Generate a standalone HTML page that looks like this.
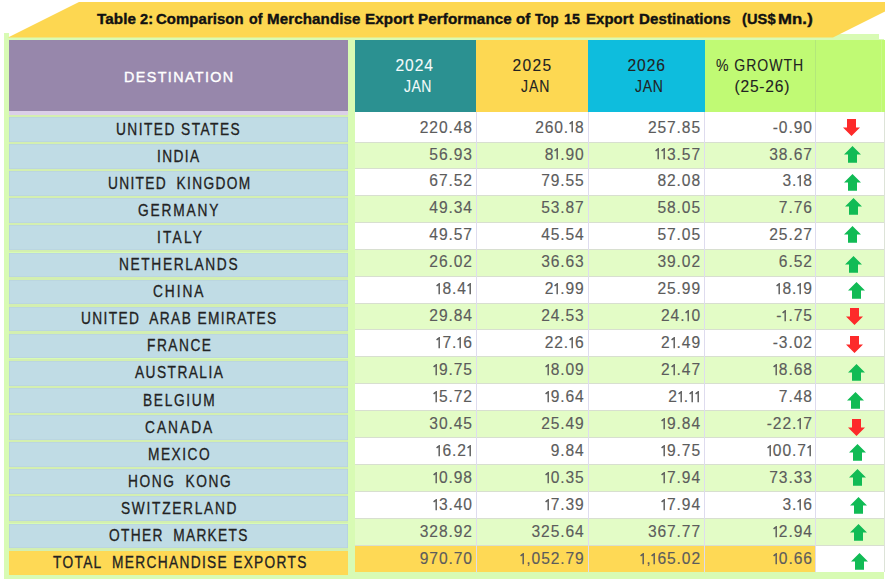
<!DOCTYPE html><html><head><meta charset="utf-8"><style>
*{margin:0;padding:0;box-sizing:border-box}
html,body{width:885px;height:582px;overflow:hidden;background:#fff}
body{position:relative;font-family:"Liberation Sans",sans-serif}
.a{position:absolute}
.t{position:absolute;white-space:nowrap;line-height:20px}
.sp{display:inline-block;width:5px}
.o{display:inline-block;vertical-align:baseline;overflow:visible}
</style></head><body>

<div class="a" style="left:4px;top:37px;width:880px;height:542px;background:#d8fbb4"></div>
<div class="a" style="left:4px;top:33.4px;width:4.5px;height:5px;background:#d8fbb4"></div>
<div class="a" style="left:826px;top:34px;width:53px;height:4px;background:#d8fbb4"></div>
<div class="a" style="left:879px;top:33px;width:6px;height:6.4px;background:#fff"></div>
<svg class="a" style="left:0;top:0" width="885" height="40"><polygon points="8,37.5 79,2 904,2 833,37.5" fill="#fdd751"/></svg>
<div class="t" style="left:97.00px;top:8.60px;font-size:15.3px;letter-spacing:0.1px;font-weight:bold;color:#111;-webkit-text-stroke:0.4px #111;transform:scaleX(0.9942);transform-origin:0 0">Table</div>
<div class="t" style="left:139.60px;top:8.60px;font-size:15.3px;letter-spacing:0.1px;font-weight:bold;color:#111;-webkit-text-stroke:0.4px #111;transform:scaleX(0.9516);transform-origin:0 0">2:</div>
<div class="t" style="left:156.40px;top:8.60px;font-size:15.3px;letter-spacing:0.1px;font-weight:bold;color:#111;-webkit-text-stroke:0.4px #111;transform:scaleX(0.9722);transform-origin:0 0">Comparison</div>
<div class="t" style="left:248.80px;top:8.60px;font-size:15.3px;letter-spacing:0.1px;font-weight:bold;color:#111;-webkit-text-stroke:0.4px #111;transform:scaleX(0.9249);transform-origin:0 0">of</div>
<div class="t" style="left:267.00px;top:8.60px;font-size:15.3px;letter-spacing:0.1px;font-weight:bold;color:#111;-webkit-text-stroke:0.4px #111;transform:scaleX(0.9886);transform-origin:0 0">Merchandise</div>
<div class="t" style="left:365.00px;top:8.60px;font-size:15.3px;letter-spacing:0.1px;font-weight:bold;color:#111;-webkit-text-stroke:0.4px #111;transform:scaleX(0.9928);transform-origin:0 0">Export</div>
<div class="t" style="left:417.80px;top:8.60px;font-size:15.3px;letter-spacing:0.1px;font-weight:bold;color:#111;-webkit-text-stroke:0.4px #111;transform:scaleX(0.9917);transform-origin:0 0">Performance</div>
<div class="t" style="left:516.40px;top:8.60px;font-size:15.3px;letter-spacing:0.1px;font-weight:bold;color:#111;-webkit-text-stroke:0.4px #111;transform:scaleX(0.9887);transform-origin:0 0">of</div>
<div class="t" style="left:535.20px;top:8.60px;font-size:15.3px;letter-spacing:0.1px;font-weight:bold;color:#111;-webkit-text-stroke:0.4px #111;transform:scaleX(0.8674);transform-origin:0 0">Top</div>
<div class="t" style="left:564.40px;top:8.60px;font-size:15.3px;letter-spacing:0.1px;font-weight:bold;color:#111;-webkit-text-stroke:0.4px #111;transform:scaleX(0.9338);transform-origin:0 0">15</div>
<div class="t" style="left:586.40px;top:8.60px;font-size:15.3px;letter-spacing:0.1px;font-weight:bold;color:#111;-webkit-text-stroke:0.4px #111;transform:scaleX(0.9723);transform-origin:0 0">Export</div>
<div class="t" style="left:639.40px;top:8.60px;font-size:15.3px;letter-spacing:0.1px;font-weight:bold;color:#111;-webkit-text-stroke:0.4px #111;transform:scaleX(0.9852);transform-origin:0 0">Destinations</div>
<div class="t" style="left:741.60px;top:8.60px;font-size:15.3px;letter-spacing:0.1px;font-weight:bold;color:#111;-webkit-text-stroke:0.4px #111;transform:scaleX(0.9529);transform-origin:0 0">(US$</div>
<div class="t" style="left:778.00px;top:8.60px;font-size:15.3px;letter-spacing:0.1px;font-weight:bold;color:#111;-webkit-text-stroke:0.4px #111;transform:scaleX(1.0935);transform-origin:0 0">Mn.)</div>
<div class="a" style="left:9px;top:39.5px;width:339px;height:72px;background:#9787ab"></div>
<div class="a" style="left:9px;top:111.1px;width:339px;height:3.9px;background:#dbd0e8"></div>
<div class="a" style="left:8.5px;top:115px;width:339.3px;height:2.2px;background:#d3efb0"></div>
<div class="t" style="left:124.00px;top:66.55px;font-size:14.60px;letter-spacing:1.44px;color:#fff;transform:scaleX(0.980);transform-origin:0 0;-webkit-text-stroke:0.4px #fff">DESTINATION</div>
<div class="a" style="left:355px;top:39.5px;width:121px;height:72px;background:#2b9191"></div>
<div class="a" style="left:476px;top:39.5px;width:112px;height:72px;background:#fdd852"></div>
<div class="a" style="left:588px;top:39.5px;width:116.5px;height:72px;background:#0ebddd"></div>
<div class="a" style="left:704.5px;top:39.5px;width:111.0px;height:72px;background:#c0fa74"></div>
<div class="a" style="left:815.5px;top:39.5px;width:70px;height:72px;background:#c0fa74"></div>
<div class="a" style="left:815px;top:39.5px;width:1px;height:72px;background:#b3e87a"></div>
<div class="a" style="left:881px;top:39.5px;width:1px;height:72px;background:#c9f98c"></div>
<div class="t" style="left:395.50px;top:56.10px;font-size:15.60px;letter-spacing:0.90px;color:#f4fbfb;-webkit-text-stroke:0.1px #f4fbfb">2024</div>
<div class="t" style="left:403.50px;top:77.10px;font-size:15.60px;letter-spacing:0.50px;color:#f4fbfb;transform:scaleX(0.900);transform-origin:0 0;-webkit-text-stroke:0.1px #f4fbfb">JAN</div>
<div class="t" style="left:512.50px;top:56.10px;font-size:15.60px;letter-spacing:1.33px;color:#222222;-webkit-text-stroke:0.1px #222222">2025</div>
<div class="t" style="left:520.50px;top:77.10px;font-size:15.60px;letter-spacing:1.10px;color:#222222;transform:scaleX(0.900);transform-origin:0 0;-webkit-text-stroke:0.1px #222222">JAN</div>
<div class="t" style="left:627.50px;top:56.10px;font-size:15.60px;letter-spacing:0.93px;color:#222222;-webkit-text-stroke:0.1px #222222">2026</div>
<div class="t" style="left:635.00px;top:77.10px;font-size:15.60px;letter-spacing:0.80px;color:#222222;transform:scaleX(0.900);transform-origin:0 0;-webkit-text-stroke:0.1px #222222">JAN</div>
<div class="t" style="left:716.00px;top:56.40px;font-size:15.60px;letter-spacing:1.09px;color:#222222;transform:scaleX(0.900);transform-origin:0 0;-webkit-text-stroke:0.1px #222222">% GROWTH</div>
<div class="t" style="left:734.50px;top:76.80px;font-size:15.60px;letter-spacing:0.77px;color:#222222;-webkit-text-stroke:0.1px #222222">(25-26)</div>
<div class="a" style="left:355px;top:112px;width:530px;height:30px;background:#ffffff"></div>
<div class="a" style="left:8.5px;top:117.2px;width:339.3px;height:24.5px;background:#c0dce5;box-shadow:inset 0 0 0 0.6px #b5cfdc"></div>
<div class="a" style="left:8.5px;top:141.7px;width:339.3px;height:2.4px;background:#d3efb0"></div>
<div class="t" style="left:116.00px;top:119.50px;font-size:15.60px;letter-spacing:1.65px;color:#222222;transform:scaleX(0.880);transform-origin:0 0;-webkit-text-stroke:0.3px #222222">UNITED STATES</div>
<div class="t" style="left:355.00px;top:117.56px;font-size:15.60px;letter-spacing:0.90px;color:#5c5c5c;width:117.85px;text-align:right;-webkit-text-stroke:0.15px #5c5c5c">220.48</div>
<div class="t" style="left:476.00px;top:117.56px;font-size:15.60px;letter-spacing:0.90px;color:#5c5c5c;width:108.66px;text-align:right;-webkit-text-stroke:0.15px #5c5c5c">260.<svg class="o" width="6.0" height="11.2"><path d="M3.2,0 V11.2 M3.2,0.6 L0.6000000000000001,3" fill="none" stroke="#5c5c5c" stroke-width="1.45"/></svg>8</div>
<div class="t" style="left:588.00px;top:117.56px;font-size:15.60px;letter-spacing:0.90px;color:#5c5c5c;width:113.00px;text-align:right;-webkit-text-stroke:0.15px #5c5c5c">257.85</div>
<div class="t" style="left:704.50px;top:117.56px;font-size:15.60px;letter-spacing:0.90px;color:#5c5c5c;width:108.30px;text-align:right;-webkit-text-stroke:0.15px #5c5c5c">-0.90</div>
<svg class="a" style="left:843.0px;top:119.2px" width="17" height="17"><polygon points="4,0 13,0 13,8.5 17,8.5 8.5,17 0,8.5 4,8.5" fill="#fd2a2a"/></svg>
<div class="a" style="left:355px;top:142px;width:530px;height:26px;background:#e3fcc6"></div>
<div class="a" style="left:355px;top:142px;width:529px;height:1px;background:#d8dfd0"></div>
<div class="a" style="left:8.5px;top:144.1px;width:339.3px;height:24.7px;background:#c0dce5;box-shadow:inset 0 0 0 0.6px #b5cfdc"></div>
<div class="a" style="left:8.5px;top:168.8px;width:339.3px;height:2.4px;background:#d3efb0"></div>
<div class="t" style="left:156.50px;top:147.20px;font-size:15.60px;letter-spacing:1.55px;color:#222222;transform:scaleX(0.880);transform-origin:0 0;-webkit-text-stroke:0.3px #222222">INDIA</div>
<div class="t" style="left:355.00px;top:144.51px;font-size:15.60px;letter-spacing:0.90px;color:#5c5c5c;width:117.85px;text-align:right;-webkit-text-stroke:0.15px #5c5c5c">56.93</div>
<div class="t" style="left:476.00px;top:144.51px;font-size:15.60px;letter-spacing:0.90px;color:#5c5c5c;width:108.66px;text-align:right;-webkit-text-stroke:0.15px #5c5c5c">8<svg class="o" width="6.0" height="11.2"><path d="M3.2,0 V11.2 M3.2,0.6 L0.6000000000000001,3" fill="none" stroke="#5c5c5c" stroke-width="1.45"/></svg>.90</div>
<div class="t" style="left:588.00px;top:144.51px;font-size:15.60px;letter-spacing:0.90px;color:#5c5c5c;width:113.00px;text-align:right;-webkit-text-stroke:0.15px #5c5c5c"><svg class="o" width="6.0" height="11.2"><path d="M3.2,0 V11.2 M3.2,0.6 L0.6000000000000001,3" fill="none" stroke="#5c5c5c" stroke-width="1.45"/></svg><svg class="o" width="6.0" height="11.2"><path d="M3.2,0 V11.2 M3.2,0.6 L0.6000000000000001,3" fill="none" stroke="#5c5c5c" stroke-width="1.45"/></svg>3.57</div>
<div class="t" style="left:704.50px;top:144.51px;font-size:15.60px;letter-spacing:0.90px;color:#5c5c5c;width:108.30px;text-align:right;-webkit-text-stroke:0.15px #5c5c5c">38.67</div>
<svg class="a" style="left:844.0px;top:146.0px" width="17" height="17"><polygon points="8.5,0 17,8.5 13,8.5 13,16.7 4,16.7 4,8.5 0,8.5" fill="#11bb55"/></svg>
<div class="a" style="left:355px;top:168px;width:530px;height:27px;background:#ffffff"></div>
<div class="a" style="left:355px;top:168px;width:529px;height:1px;background:#d8dfd0"></div>
<div class="a" style="left:8.5px;top:171.2px;width:339.3px;height:24.7px;background:#c0dce5;box-shadow:inset 0 0 0 0.6px #b5cfdc"></div>
<div class="a" style="left:8.5px;top:195.9px;width:339.3px;height:2.4px;background:#d3efb0"></div>
<div class="t" style="left:107.50px;top:174.10px;font-size:15.60px;letter-spacing:1.51px;color:#222222;transform:scaleX(0.880);transform-origin:0 0;-webkit-text-stroke:0.3px #222222">UNITED<span class="sp"></span> KINGDOM</div>
<div class="t" style="left:355.00px;top:171.46px;font-size:15.60px;letter-spacing:0.90px;color:#5c5c5c;width:117.85px;text-align:right;-webkit-text-stroke:0.15px #5c5c5c">67.52</div>
<div class="t" style="left:476.00px;top:171.46px;font-size:15.60px;letter-spacing:0.90px;color:#5c5c5c;width:108.66px;text-align:right;-webkit-text-stroke:0.15px #5c5c5c">79.55</div>
<div class="t" style="left:588.00px;top:171.46px;font-size:15.60px;letter-spacing:0.90px;color:#5c5c5c;width:113.00px;text-align:right;-webkit-text-stroke:0.15px #5c5c5c">82.08</div>
<div class="t" style="left:704.50px;top:171.46px;font-size:15.60px;letter-spacing:0.90px;color:#5c5c5c;width:108.30px;text-align:right;-webkit-text-stroke:0.15px #5c5c5c">3.<svg class="o" width="6.0" height="11.2"><path d="M3.2,0 V11.2 M3.2,0.6 L0.6000000000000001,3" fill="none" stroke="#5c5c5c" stroke-width="1.45"/></svg>8</div>
<svg class="a" style="left:843.6px;top:173.8px" width="17" height="17"><polygon points="8.5,0 17,8.5 13,8.5 13,16.7 4,16.7 4,8.5 0,8.5" fill="#11bb55"/></svg>
<div class="a" style="left:355px;top:195px;width:530px;height:27px;background:#e3fcc6"></div>
<div class="a" style="left:355px;top:195px;width:529px;height:1px;background:#d8dfd0"></div>
<div class="a" style="left:8.5px;top:198.3px;width:339.3px;height:24.7px;background:#c0dce5;box-shadow:inset 0 0 0 0.6px #b5cfdc"></div>
<div class="a" style="left:8.5px;top:223.0px;width:339.3px;height:2.4px;background:#d3efb0"></div>
<div class="t" style="left:138.00px;top:200.70px;font-size:15.60px;letter-spacing:2.07px;color:#222222;transform:scaleX(0.880);transform-origin:0 0;-webkit-text-stroke:0.3px #222222">GERMANY</div>
<div class="t" style="left:355.00px;top:198.41px;font-size:15.60px;letter-spacing:0.90px;color:#5c5c5c;width:117.85px;text-align:right;-webkit-text-stroke:0.15px #5c5c5c">49.34</div>
<div class="t" style="left:476.00px;top:198.41px;font-size:15.60px;letter-spacing:0.90px;color:#5c5c5c;width:108.66px;text-align:right;-webkit-text-stroke:0.15px #5c5c5c">53.87</div>
<div class="t" style="left:588.00px;top:198.41px;font-size:15.60px;letter-spacing:0.90px;color:#5c5c5c;width:113.00px;text-align:right;-webkit-text-stroke:0.15px #5c5c5c">58.05</div>
<div class="t" style="left:704.50px;top:198.41px;font-size:15.60px;letter-spacing:0.90px;color:#5c5c5c;width:108.30px;text-align:right;-webkit-text-stroke:0.15px #5c5c5c">7.76</div>
<svg class="a" style="left:845.0px;top:198.3px" width="17" height="17"><polygon points="8.5,0 17,8.5 13,8.5 13,16.7 4,16.7 4,8.5 0,8.5" fill="#11bb55"/></svg>
<div class="a" style="left:355px;top:222px;width:530px;height:27px;background:#ffffff"></div>
<div class="a" style="left:355px;top:222px;width:529px;height:1px;background:#d8dfd0"></div>
<div class="a" style="left:8.5px;top:225.4px;width:339.3px;height:24.7px;background:#c0dce5;box-shadow:inset 0 0 0 0.6px #b5cfdc"></div>
<div class="a" style="left:8.5px;top:250.1px;width:339.3px;height:2.4px;background:#d3efb0"></div>
<div class="t" style="left:156.50px;top:228.00px;font-size:15.60px;letter-spacing:2.50px;color:#222222;transform:scaleX(0.880);transform-origin:0 0;-webkit-text-stroke:0.3px #222222">ITALY</div>
<div class="t" style="left:355.00px;top:225.36px;font-size:15.60px;letter-spacing:0.90px;color:#5c5c5c;width:117.85px;text-align:right;-webkit-text-stroke:0.15px #5c5c5c">49.57</div>
<div class="t" style="left:476.00px;top:225.36px;font-size:15.60px;letter-spacing:0.90px;color:#5c5c5c;width:108.66px;text-align:right;-webkit-text-stroke:0.15px #5c5c5c">45.54</div>
<div class="t" style="left:588.00px;top:225.36px;font-size:15.60px;letter-spacing:0.90px;color:#5c5c5c;width:113.00px;text-align:right;-webkit-text-stroke:0.15px #5c5c5c">57.05</div>
<div class="t" style="left:704.50px;top:225.36px;font-size:15.60px;letter-spacing:0.90px;color:#5c5c5c;width:108.30px;text-align:right;-webkit-text-stroke:0.15px #5c5c5c">25.27</div>
<svg class="a" style="left:844.3px;top:225.7px" width="17" height="17"><polygon points="8.5,0 17,8.5 13,8.5 13,16.7 4,16.7 4,8.5 0,8.5" fill="#11bb55"/></svg>
<div class="a" style="left:355px;top:249px;width:530px;height:27px;background:#e3fcc6"></div>
<div class="a" style="left:355px;top:249px;width:529px;height:1px;background:#d8dfd0"></div>
<div class="a" style="left:8.5px;top:252.5px;width:339.3px;height:24.7px;background:#c0dce5;box-shadow:inset 0 0 0 0.6px #b5cfdc"></div>
<div class="a" style="left:8.5px;top:277.2px;width:339.3px;height:2.4px;background:#d3efb0"></div>
<div class="t" style="left:119.00px;top:255.30px;font-size:15.60px;letter-spacing:1.86px;color:#222222;transform:scaleX(0.880);transform-origin:0 0;-webkit-text-stroke:0.3px #222222">NETHERLANDS</div>
<div class="t" style="left:355.00px;top:252.31px;font-size:15.60px;letter-spacing:0.90px;color:#5c5c5c;width:117.85px;text-align:right;-webkit-text-stroke:0.15px #5c5c5c">26.02</div>
<div class="t" style="left:476.00px;top:252.31px;font-size:15.60px;letter-spacing:0.90px;color:#5c5c5c;width:108.66px;text-align:right;-webkit-text-stroke:0.15px #5c5c5c">36.63</div>
<div class="t" style="left:588.00px;top:252.31px;font-size:15.60px;letter-spacing:0.90px;color:#5c5c5c;width:113.00px;text-align:right;-webkit-text-stroke:0.15px #5c5c5c">39.02</div>
<div class="t" style="left:704.50px;top:252.31px;font-size:15.60px;letter-spacing:0.90px;color:#5c5c5c;width:108.30px;text-align:right;-webkit-text-stroke:0.15px #5c5c5c">6.52</div>
<svg class="a" style="left:845.4px;top:255.8px" width="17" height="17"><polygon points="8.5,0 17,8.5 13,8.5 13,16.7 4,16.7 4,8.5 0,8.5" fill="#11bb55"/></svg>
<div class="a" style="left:355px;top:276px;width:530px;height:27px;background:#ffffff"></div>
<div class="a" style="left:355px;top:276px;width:529px;height:1px;background:#d8dfd0"></div>
<div class="a" style="left:8.5px;top:279.6px;width:339.3px;height:24.7px;background:#c0dce5;box-shadow:inset 0 0 0 0.6px #b5cfdc"></div>
<div class="a" style="left:8.5px;top:304.3px;width:339.3px;height:2.4px;background:#d3efb0"></div>
<div class="t" style="left:153.00px;top:281.60px;font-size:15.60px;letter-spacing:2.20px;color:#222222;transform:scaleX(0.880);transform-origin:0 0;-webkit-text-stroke:0.3px #222222">CHINA</div>
<div class="t" style="left:355.00px;top:279.26px;font-size:15.60px;letter-spacing:0.90px;color:#5c5c5c;width:117.85px;text-align:right;-webkit-text-stroke:0.15px #5c5c5c"><svg class="o" width="6.0" height="11.2"><path d="M3.2,0 V11.2 M3.2,0.6 L0.6000000000000001,3" fill="none" stroke="#5c5c5c" stroke-width="1.45"/></svg>8.4<svg class="o" width="6.0" height="11.2"><path d="M3.2,0 V11.2 M3.2,0.6 L0.6000000000000001,3" fill="none" stroke="#5c5c5c" stroke-width="1.45"/></svg></div>
<div class="t" style="left:476.00px;top:279.26px;font-size:15.60px;letter-spacing:0.90px;color:#5c5c5c;width:108.66px;text-align:right;-webkit-text-stroke:0.15px #5c5c5c">2<svg class="o" width="6.0" height="11.2"><path d="M3.2,0 V11.2 M3.2,0.6 L0.6000000000000001,3" fill="none" stroke="#5c5c5c" stroke-width="1.45"/></svg>.99</div>
<div class="t" style="left:588.00px;top:279.26px;font-size:15.60px;letter-spacing:0.90px;color:#5c5c5c;width:113.00px;text-align:right;-webkit-text-stroke:0.15px #5c5c5c">25.99</div>
<div class="t" style="left:704.50px;top:279.26px;font-size:15.60px;letter-spacing:0.90px;color:#5c5c5c;width:108.30px;text-align:right;-webkit-text-stroke:0.15px #5c5c5c"><svg class="o" width="6.0" height="11.2"><path d="M3.2,0 V11.2 M3.2,0.6 L0.6000000000000001,3" fill="none" stroke="#5c5c5c" stroke-width="1.45"/></svg>8.<svg class="o" width="6.0" height="11.2"><path d="M3.2,0 V11.2 M3.2,0.6 L0.6000000000000001,3" fill="none" stroke="#5c5c5c" stroke-width="1.45"/></svg>9</div>
<svg class="a" style="left:847.8px;top:282.1px" width="17" height="17"><polygon points="8.5,0 17,8.5 13,8.5 13,16.7 4,16.7 4,8.5 0,8.5" fill="#11bb55"/></svg>
<div class="a" style="left:355px;top:303px;width:530px;height:26px;background:#e3fcc6"></div>
<div class="a" style="left:355px;top:303px;width:529px;height:1px;background:#d8dfd0"></div>
<div class="a" style="left:8.5px;top:306.7px;width:339.3px;height:24.7px;background:#c0dce5;box-shadow:inset 0 0 0 0.6px #b5cfdc"></div>
<div class="a" style="left:8.5px;top:331.4px;width:339.3px;height:2.4px;background:#d3efb0"></div>
<div class="t" style="left:80.50px;top:308.70px;font-size:15.60px;letter-spacing:1.58px;color:#222222;transform:scaleX(0.880);transform-origin:0 0;-webkit-text-stroke:0.3px #222222">UNITED<span class="sp"></span> ARAB EMIRATES</div>
<div class="t" style="left:355.00px;top:306.21px;font-size:15.60px;letter-spacing:0.90px;color:#5c5c5c;width:117.85px;text-align:right;-webkit-text-stroke:0.15px #5c5c5c">29.84</div>
<div class="t" style="left:476.00px;top:306.21px;font-size:15.60px;letter-spacing:0.90px;color:#5c5c5c;width:108.66px;text-align:right;-webkit-text-stroke:0.15px #5c5c5c">24.53</div>
<div class="t" style="left:588.00px;top:306.21px;font-size:15.60px;letter-spacing:0.90px;color:#5c5c5c;width:113.00px;text-align:right;-webkit-text-stroke:0.15px #5c5c5c">24.<svg class="o" width="6.0" height="11.2"><path d="M3.2,0 V11.2 M3.2,0.6 L0.6000000000000001,3" fill="none" stroke="#5c5c5c" stroke-width="1.45"/></svg>0</div>
<div class="t" style="left:704.50px;top:306.21px;font-size:15.60px;letter-spacing:0.90px;color:#5c5c5c;width:108.30px;text-align:right;-webkit-text-stroke:0.15px #5c5c5c">-<svg class="o" width="6.0" height="11.2"><path d="M3.2,0 V11.2 M3.2,0.6 L0.6000000000000001,3" fill="none" stroke="#5c5c5c" stroke-width="1.45"/></svg>.75</div>
<svg class="a" style="left:846.4px;top:307.7px" width="17" height="17"><polygon points="4,0 13,0 13,8.5 17,8.5 8.5,17 0,8.5 4,8.5" fill="#fd2a2a"/></svg>
<div class="a" style="left:355px;top:329px;width:530px;height:27px;background:#ffffff"></div>
<div class="a" style="left:355px;top:329px;width:529px;height:1px;background:#d8dfd0"></div>
<div class="a" style="left:8.5px;top:333.8px;width:339.3px;height:24.7px;background:#c0dce5;box-shadow:inset 0 0 0 0.6px #b5cfdc"></div>
<div class="a" style="left:8.5px;top:358.5px;width:339.3px;height:2.4px;background:#d3efb0"></div>
<div class="t" style="left:146.50px;top:336.00px;font-size:15.60px;letter-spacing:1.72px;color:#222222;transform:scaleX(0.880);transform-origin:0 0;-webkit-text-stroke:0.3px #222222">FRANCE</div>
<div class="t" style="left:355.00px;top:333.16px;font-size:15.60px;letter-spacing:0.90px;color:#5c5c5c;width:117.85px;text-align:right;-webkit-text-stroke:0.15px #5c5c5c"><svg class="o" width="6.0" height="11.2"><path d="M3.2,0 V11.2 M3.2,0.6 L0.6000000000000001,3" fill="none" stroke="#5c5c5c" stroke-width="1.45"/></svg>7.<svg class="o" width="6.0" height="11.2"><path d="M3.2,0 V11.2 M3.2,0.6 L0.6000000000000001,3" fill="none" stroke="#5c5c5c" stroke-width="1.45"/></svg>6</div>
<div class="t" style="left:476.00px;top:333.16px;font-size:15.60px;letter-spacing:0.90px;color:#5c5c5c;width:108.66px;text-align:right;-webkit-text-stroke:0.15px #5c5c5c">22.<svg class="o" width="6.0" height="11.2"><path d="M3.2,0 V11.2 M3.2,0.6 L0.6000000000000001,3" fill="none" stroke="#5c5c5c" stroke-width="1.45"/></svg>6</div>
<div class="t" style="left:588.00px;top:333.16px;font-size:15.60px;letter-spacing:0.90px;color:#5c5c5c;width:113.00px;text-align:right;-webkit-text-stroke:0.15px #5c5c5c">2<svg class="o" width="6.0" height="11.2"><path d="M3.2,0 V11.2 M3.2,0.6 L0.6000000000000001,3" fill="none" stroke="#5c5c5c" stroke-width="1.45"/></svg>.49</div>
<div class="t" style="left:704.50px;top:333.16px;font-size:15.60px;letter-spacing:0.90px;color:#5c5c5c;width:108.30px;text-align:right;-webkit-text-stroke:0.15px #5c5c5c">-3.02</div>
<svg class="a" style="left:846.4px;top:336.0px" width="17" height="17"><polygon points="4,0 13,0 13,8.5 17,8.5 8.5,17 0,8.5 4,8.5" fill="#fd2a2a"/></svg>
<div class="a" style="left:355px;top:356px;width:530px;height:27px;background:#e3fcc6"></div>
<div class="a" style="left:355px;top:356px;width:529px;height:1px;background:#d8dfd0"></div>
<div class="a" style="left:8.5px;top:360.9px;width:339.3px;height:24.7px;background:#c0dce5;box-shadow:inset 0 0 0 0.6px #b5cfdc"></div>
<div class="a" style="left:8.5px;top:385.6px;width:339.3px;height:2.4px;background:#d3efb0"></div>
<div class="t" style="left:135.00px;top:363.30px;font-size:15.60px;letter-spacing:1.65px;color:#222222;transform:scaleX(0.880);transform-origin:0 0;-webkit-text-stroke:0.3px #222222">AUSTRALIA</div>
<div class="t" style="left:355.00px;top:360.11px;font-size:15.60px;letter-spacing:0.90px;color:#5c5c5c;width:117.85px;text-align:right;-webkit-text-stroke:0.15px #5c5c5c"><svg class="o" width="6.0" height="11.2"><path d="M3.2,0 V11.2 M3.2,0.6 L0.6000000000000001,3" fill="none" stroke="#5c5c5c" stroke-width="1.45"/></svg>9.75</div>
<div class="t" style="left:476.00px;top:360.11px;font-size:15.60px;letter-spacing:0.90px;color:#5c5c5c;width:108.66px;text-align:right;-webkit-text-stroke:0.15px #5c5c5c"><svg class="o" width="6.0" height="11.2"><path d="M3.2,0 V11.2 M3.2,0.6 L0.6000000000000001,3" fill="none" stroke="#5c5c5c" stroke-width="1.45"/></svg>8.09</div>
<div class="t" style="left:588.00px;top:360.11px;font-size:15.60px;letter-spacing:0.90px;color:#5c5c5c;width:113.00px;text-align:right;-webkit-text-stroke:0.15px #5c5c5c">2<svg class="o" width="6.0" height="11.2"><path d="M3.2,0 V11.2 M3.2,0.6 L0.6000000000000001,3" fill="none" stroke="#5c5c5c" stroke-width="1.45"/></svg>.47</div>
<div class="t" style="left:704.50px;top:360.11px;font-size:15.60px;letter-spacing:0.90px;color:#5c5c5c;width:108.30px;text-align:right;-webkit-text-stroke:0.15px #5c5c5c"><svg class="o" width="6.0" height="11.2"><path d="M3.2,0 V11.2 M3.2,0.6 L0.6000000000000001,3" fill="none" stroke="#5c5c5c" stroke-width="1.45"/></svg>8.68</div>
<svg class="a" style="left:848.3px;top:363.8px" width="17" height="17"><polygon points="8.5,0 17,8.5 13,8.5 13,16.7 4,16.7 4,8.5 0,8.5" fill="#11bb55"/></svg>
<div class="a" style="left:355px;top:383px;width:530px;height:27px;background:#ffffff"></div>
<div class="a" style="left:355px;top:383px;width:529px;height:1px;background:#d8dfd0"></div>
<div class="a" style="left:8.5px;top:388.0px;width:339.3px;height:24.7px;background:#c0dce5;box-shadow:inset 0 0 0 0.6px #b5cfdc"></div>
<div class="a" style="left:8.5px;top:412.7px;width:339.3px;height:2.4px;background:#d3efb0"></div>
<div class="t" style="left:142.50px;top:390.60px;font-size:15.60px;letter-spacing:1.90px;color:#222222;transform:scaleX(0.880);transform-origin:0 0;-webkit-text-stroke:0.3px #222222">BELGIUM</div>
<div class="t" style="left:355.00px;top:387.06px;font-size:15.60px;letter-spacing:0.90px;color:#5c5c5c;width:117.85px;text-align:right;-webkit-text-stroke:0.15px #5c5c5c"><svg class="o" width="6.0" height="11.2"><path d="M3.2,0 V11.2 M3.2,0.6 L0.6000000000000001,3" fill="none" stroke="#5c5c5c" stroke-width="1.45"/></svg>5.72</div>
<div class="t" style="left:476.00px;top:387.06px;font-size:15.60px;letter-spacing:0.90px;color:#5c5c5c;width:108.66px;text-align:right;-webkit-text-stroke:0.15px #5c5c5c"><svg class="o" width="6.0" height="11.2"><path d="M3.2,0 V11.2 M3.2,0.6 L0.6000000000000001,3" fill="none" stroke="#5c5c5c" stroke-width="1.45"/></svg>9.64</div>
<div class="t" style="left:588.00px;top:387.06px;font-size:15.60px;letter-spacing:0.90px;color:#5c5c5c;width:113.00px;text-align:right;-webkit-text-stroke:0.15px #5c5c5c">2<svg class="o" width="6.0" height="11.2"><path d="M3.2,0 V11.2 M3.2,0.6 L0.6000000000000001,3" fill="none" stroke="#5c5c5c" stroke-width="1.45"/></svg>.<svg class="o" width="6.0" height="11.2"><path d="M3.2,0 V11.2 M3.2,0.6 L0.6000000000000001,3" fill="none" stroke="#5c5c5c" stroke-width="1.45"/></svg><svg class="o" width="6.0" height="11.2"><path d="M3.2,0 V11.2 M3.2,0.6 L0.6000000000000001,3" fill="none" stroke="#5c5c5c" stroke-width="1.45"/></svg></div>
<div class="t" style="left:704.50px;top:387.06px;font-size:15.60px;letter-spacing:0.90px;color:#5c5c5c;width:108.30px;text-align:right;-webkit-text-stroke:0.15px #5c5c5c">7.48</div>
<svg class="a" style="left:847.3px;top:391.6px" width="17" height="17"><polygon points="8.5,0 17,8.5 13,8.5 13,16.7 4,16.7 4,8.5 0,8.5" fill="#11bb55"/></svg>
<div class="a" style="left:355px;top:410px;width:530px;height:27px;background:#e3fcc6"></div>
<div class="a" style="left:355px;top:410px;width:529px;height:1px;background:#d8dfd0"></div>
<div class="a" style="left:8.5px;top:415.1px;width:339.3px;height:24.7px;background:#c0dce5;box-shadow:inset 0 0 0 0.6px #b5cfdc"></div>
<div class="a" style="left:8.5px;top:439.8px;width:339.3px;height:2.4px;background:#d3efb0"></div>
<div class="t" style="left:144.50px;top:417.80px;font-size:15.60px;letter-spacing:2.28px;color:#222222;transform:scaleX(0.880);transform-origin:0 0;-webkit-text-stroke:0.3px #222222">CANADA</div>
<div class="t" style="left:355.00px;top:414.01px;font-size:15.60px;letter-spacing:0.90px;color:#5c5c5c;width:117.85px;text-align:right;-webkit-text-stroke:0.15px #5c5c5c">30.45</div>
<div class="t" style="left:476.00px;top:414.01px;font-size:15.60px;letter-spacing:0.90px;color:#5c5c5c;width:108.66px;text-align:right;-webkit-text-stroke:0.15px #5c5c5c">25.49</div>
<div class="t" style="left:588.00px;top:414.01px;font-size:15.60px;letter-spacing:0.90px;color:#5c5c5c;width:113.00px;text-align:right;-webkit-text-stroke:0.15px #5c5c5c"><svg class="o" width="6.0" height="11.2"><path d="M3.2,0 V11.2 M3.2,0.6 L0.6000000000000001,3" fill="none" stroke="#5c5c5c" stroke-width="1.45"/></svg>9.84</div>
<div class="t" style="left:704.50px;top:414.01px;font-size:15.60px;letter-spacing:0.90px;color:#5c5c5c;width:108.30px;text-align:right;-webkit-text-stroke:0.15px #5c5c5c">-22.<svg class="o" width="6.0" height="11.2"><path d="M3.2,0 V11.2 M3.2,0.6 L0.6000000000000001,3" fill="none" stroke="#5c5c5c" stroke-width="1.45"/></svg>7</div>
<svg class="a" style="left:848.3px;top:418.5px" width="17" height="17"><polygon points="4,0 13,0 13,8.5 17,8.5 8.5,17 0,8.5 4,8.5" fill="#fd2a2a"/></svg>
<div class="a" style="left:355px;top:437px;width:530px;height:27px;background:#ffffff"></div>
<div class="a" style="left:355px;top:437px;width:529px;height:1px;background:#d8dfd0"></div>
<div class="a" style="left:8.5px;top:442.2px;width:339.3px;height:24.7px;background:#c0dce5;box-shadow:inset 0 0 0 0.6px #b5cfdc"></div>
<div class="a" style="left:8.5px;top:466.9px;width:339.3px;height:2.4px;background:#d3efb0"></div>
<div class="t" style="left:148.00px;top:445.20px;font-size:15.60px;letter-spacing:1.72px;color:#222222;transform:scaleX(0.880);transform-origin:0 0;-webkit-text-stroke:0.3px #222222">MEXICO</div>
<div class="t" style="left:355.00px;top:440.96px;font-size:15.60px;letter-spacing:0.90px;color:#5c5c5c;width:117.85px;text-align:right;-webkit-text-stroke:0.15px #5c5c5c"><svg class="o" width="6.0" height="11.2"><path d="M3.2,0 V11.2 M3.2,0.6 L0.6000000000000001,3" fill="none" stroke="#5c5c5c" stroke-width="1.45"/></svg>6.2<svg class="o" width="6.0" height="11.2"><path d="M3.2,0 V11.2 M3.2,0.6 L0.6000000000000001,3" fill="none" stroke="#5c5c5c" stroke-width="1.45"/></svg></div>
<div class="t" style="left:476.00px;top:440.96px;font-size:15.60px;letter-spacing:0.90px;color:#5c5c5c;width:108.66px;text-align:right;-webkit-text-stroke:0.15px #5c5c5c">9.84</div>
<div class="t" style="left:588.00px;top:440.96px;font-size:15.60px;letter-spacing:0.90px;color:#5c5c5c;width:113.00px;text-align:right;-webkit-text-stroke:0.15px #5c5c5c"><svg class="o" width="6.0" height="11.2"><path d="M3.2,0 V11.2 M3.2,0.6 L0.6000000000000001,3" fill="none" stroke="#5c5c5c" stroke-width="1.45"/></svg>9.75</div>
<div class="t" style="left:704.50px;top:440.96px;font-size:15.60px;letter-spacing:0.90px;color:#5c5c5c;width:108.30px;text-align:right;-webkit-text-stroke:0.15px #5c5c5c"><svg class="o" width="6.0" height="11.2"><path d="M3.2,0 V11.2 M3.2,0.6 L0.6000000000000001,3" fill="none" stroke="#5c5c5c" stroke-width="1.45"/></svg>00.7<svg class="o" width="6.0" height="11.2"><path d="M3.2,0 V11.2 M3.2,0.6 L0.6000000000000001,3" fill="none" stroke="#5c5c5c" stroke-width="1.45"/></svg></div>
<svg class="a" style="left:849.3px;top:443.6px" width="17" height="17"><polygon points="8.5,0 17,8.5 13,8.5 13,16.7 4,16.7 4,8.5 0,8.5" fill="#11bb55"/></svg>
<div class="a" style="left:355px;top:464px;width:530px;height:27px;background:#e3fcc6"></div>
<div class="a" style="left:355px;top:464px;width:529px;height:1px;background:#d8dfd0"></div>
<div class="a" style="left:8.5px;top:469.3px;width:339.3px;height:24.7px;background:#c0dce5;box-shadow:inset 0 0 0 0.6px #b5cfdc"></div>
<div class="a" style="left:8.5px;top:494.0px;width:339.3px;height:2.4px;background:#d3efb0"></div>
<div class="t" style="left:127.50px;top:471.50px;font-size:15.60px;letter-spacing:1.82px;color:#222222;transform:scaleX(0.880);transform-origin:0 0;-webkit-text-stroke:0.3px #222222">HONG<span class="sp"></span> KONG</div>
<div class="t" style="left:355.00px;top:467.91px;font-size:15.60px;letter-spacing:0.90px;color:#5c5c5c;width:117.85px;text-align:right;-webkit-text-stroke:0.15px #5c5c5c"><svg class="o" width="6.0" height="11.2"><path d="M3.2,0 V11.2 M3.2,0.6 L0.6000000000000001,3" fill="none" stroke="#5c5c5c" stroke-width="1.45"/></svg>0.98</div>
<div class="t" style="left:476.00px;top:467.91px;font-size:15.60px;letter-spacing:0.90px;color:#5c5c5c;width:108.66px;text-align:right;-webkit-text-stroke:0.15px #5c5c5c"><svg class="o" width="6.0" height="11.2"><path d="M3.2,0 V11.2 M3.2,0.6 L0.6000000000000001,3" fill="none" stroke="#5c5c5c" stroke-width="1.45"/></svg>0.35</div>
<div class="t" style="left:588.00px;top:467.91px;font-size:15.60px;letter-spacing:0.90px;color:#5c5c5c;width:113.00px;text-align:right;-webkit-text-stroke:0.15px #5c5c5c"><svg class="o" width="6.0" height="11.2"><path d="M3.2,0 V11.2 M3.2,0.6 L0.6000000000000001,3" fill="none" stroke="#5c5c5c" stroke-width="1.45"/></svg>7.94</div>
<div class="t" style="left:704.50px;top:467.91px;font-size:15.60px;letter-spacing:0.90px;color:#5c5c5c;width:108.30px;text-align:right;-webkit-text-stroke:0.15px #5c5c5c">73.33</div>
<svg class="a" style="left:849.0px;top:469.2px" width="17" height="17"><polygon points="8.5,0 17,8.5 13,8.5 13,16.7 4,16.7 4,8.5 0,8.5" fill="#11bb55"/></svg>
<div class="a" style="left:355px;top:491px;width:530px;height:27px;background:#ffffff"></div>
<div class="a" style="left:355px;top:491px;width:529px;height:1px;background:#d8dfd0"></div>
<div class="a" style="left:8.5px;top:496.4px;width:339.3px;height:24.7px;background:#c0dce5;box-shadow:inset 0 0 0 0.6px #b5cfdc"></div>
<div class="a" style="left:8.5px;top:521.1px;width:339.3px;height:2.4px;background:#d3efb0"></div>
<div class="t" style="left:120.50px;top:498.80px;font-size:15.60px;letter-spacing:1.94px;color:#222222;transform:scaleX(0.880);transform-origin:0 0;-webkit-text-stroke:0.3px #222222">SWITZERLAND</div>
<div class="t" style="left:355.00px;top:494.86px;font-size:15.60px;letter-spacing:0.90px;color:#5c5c5c;width:117.85px;text-align:right;-webkit-text-stroke:0.15px #5c5c5c"><svg class="o" width="6.0" height="11.2"><path d="M3.2,0 V11.2 M3.2,0.6 L0.6000000000000001,3" fill="none" stroke="#5c5c5c" stroke-width="1.45"/></svg>3.40</div>
<div class="t" style="left:476.00px;top:494.86px;font-size:15.60px;letter-spacing:0.90px;color:#5c5c5c;width:108.66px;text-align:right;-webkit-text-stroke:0.15px #5c5c5c"><svg class="o" width="6.0" height="11.2"><path d="M3.2,0 V11.2 M3.2,0.6 L0.6000000000000001,3" fill="none" stroke="#5c5c5c" stroke-width="1.45"/></svg>7.39</div>
<div class="t" style="left:588.00px;top:494.86px;font-size:15.60px;letter-spacing:0.90px;color:#5c5c5c;width:113.00px;text-align:right;-webkit-text-stroke:0.15px #5c5c5c"><svg class="o" width="6.0" height="11.2"><path d="M3.2,0 V11.2 M3.2,0.6 L0.6000000000000001,3" fill="none" stroke="#5c5c5c" stroke-width="1.45"/></svg>7.94</div>
<div class="t" style="left:704.50px;top:494.86px;font-size:15.60px;letter-spacing:0.90px;color:#5c5c5c;width:108.30px;text-align:right;-webkit-text-stroke:0.15px #5c5c5c">3.<svg class="o" width="6.0" height="11.2"><path d="M3.2,0 V11.2 M3.2,0.6 L0.6000000000000001,3" fill="none" stroke="#5c5c5c" stroke-width="1.45"/></svg>6</div>
<svg class="a" style="left:850.2px;top:496.6px" width="17" height="17"><polygon points="8.5,0 17,8.5 13,8.5 13,16.7 4,16.7 4,8.5 0,8.5" fill="#11bb55"/></svg>
<div class="a" style="left:355px;top:518px;width:530px;height:27px;background:#e3fcc6"></div>
<div class="a" style="left:355px;top:518px;width:529px;height:1px;background:#d8dfd0"></div>
<div class="a" style="left:8.5px;top:523.5px;width:339.3px;height:24.7px;background:#c0dce5;box-shadow:inset 0 0 0 0.6px #b5cfdc"></div>
<div class="a" style="left:8.5px;top:548.2px;width:339.3px;height:2.4px;background:#d3efb0"></div>
<div class="t" style="left:108.50px;top:525.80px;font-size:15.60px;letter-spacing:1.50px;color:#222222;transform:scaleX(0.880);transform-origin:0 0;-webkit-text-stroke:0.3px #222222">OTHER<span class="sp"></span> MARKETS</div>
<div class="t" style="left:355.00px;top:521.81px;font-size:15.60px;letter-spacing:0.90px;color:#5c5c5c;width:117.85px;text-align:right;-webkit-text-stroke:0.15px #5c5c5c">328.92</div>
<div class="t" style="left:476.00px;top:521.81px;font-size:15.60px;letter-spacing:0.90px;color:#5c5c5c;width:108.66px;text-align:right;-webkit-text-stroke:0.15px #5c5c5c">325.64</div>
<div class="t" style="left:588.00px;top:521.81px;font-size:15.60px;letter-spacing:0.90px;color:#5c5c5c;width:113.00px;text-align:right;-webkit-text-stroke:0.15px #5c5c5c">367.77</div>
<div class="t" style="left:704.50px;top:521.81px;font-size:15.60px;letter-spacing:0.90px;color:#5c5c5c;width:108.30px;text-align:right;-webkit-text-stroke:0.15px #5c5c5c"><svg class="o" width="6.0" height="11.2"><path d="M3.2,0 V11.2 M3.2,0.6 L0.6000000000000001,3" fill="none" stroke="#5c5c5c" stroke-width="1.45"/></svg>2.94</div>
<svg class="a" style="left:850.2px;top:523.6px" width="17" height="17"><polygon points="8.5,0 17,8.5 13,8.5 13,16.7 4,16.7 4,8.5 0,8.5" fill="#11bb55"/></svg>
<div class="a" style="left:355px;top:545px;width:460.5px;height:27px;background:#fed955"></div>
<div class="a" style="left:815.5px;top:545px;width:69.5px;height:27px;background:#fff"></div>
<div class="a" style="left:355px;top:545px;width:529px;height:1px;background:#d8dfd0"></div>
<div class="a" style="left:8.5px;top:550.6px;width:339.3px;height:24.0px;background:#fed955;box-shadow:inset 0 0 0 0.6px #fed955"></div>
<div class="t" style="left:52.50px;top:553.10px;font-size:15.60px;letter-spacing:1.50px;color:#222222;transform:scaleX(0.880);transform-origin:0 0;-webkit-text-stroke:0.3px #222222">TOTAL<span class="sp"></span> MERCHANDISE EXPORTS</div>
<div class="t" style="left:355.00px;top:548.76px;font-size:15.60px;letter-spacing:0.90px;color:#5c5c5c;width:117.85px;text-align:right;-webkit-text-stroke:0.15px #5c5c5c">970.70</div>
<div class="t" style="left:476.00px;top:548.76px;font-size:15.60px;letter-spacing:0.90px;color:#5c5c5c;width:108.66px;text-align:right;-webkit-text-stroke:0.15px #5c5c5c"><svg class="o" width="6.0" height="11.2"><path d="M3.2,0 V11.2 M3.2,0.6 L0.6000000000000001,3" fill="none" stroke="#5c5c5c" stroke-width="1.45"/></svg>,052.79</div>
<div class="t" style="left:588.00px;top:548.76px;font-size:15.60px;letter-spacing:0.90px;color:#5c5c5c;width:113.00px;text-align:right;-webkit-text-stroke:0.15px #5c5c5c"><svg class="o" width="6.0" height="11.2"><path d="M3.2,0 V11.2 M3.2,0.6 L0.6000000000000001,3" fill="none" stroke="#5c5c5c" stroke-width="1.45"/></svg>,<svg class="o" width="6.0" height="11.2"><path d="M3.2,0 V11.2 M3.2,0.6 L0.6000000000000001,3" fill="none" stroke="#5c5c5c" stroke-width="1.45"/></svg>65.02</div>
<div class="t" style="left:704.50px;top:548.76px;font-size:15.60px;letter-spacing:0.90px;color:#5c5c5c;width:108.30px;text-align:right;-webkit-text-stroke:0.15px #5c5c5c"><svg class="o" width="6.0" height="11.2"><path d="M3.2,0 V11.2 M3.2,0.6 L0.6000000000000001,3" fill="none" stroke="#5c5c5c" stroke-width="1.45"/></svg>0.66</div>
<svg class="a" style="left:851.2px;top:552.9px" width="17" height="17"><polygon points="8.5,0 17,8.5 13,8.5 13,16.7 4,16.7 4,8.5 0,8.5" fill="#11bb55"/></svg>
<div class="a" style="left:475.5px;top:112px;width:1px;height:460px;background:#dedcee"></div>
<div class="a" style="left:587.5px;top:112px;width:1px;height:460px;background:#dedcee"></div>
<div class="a" style="left:704.0px;top:112px;width:1px;height:460px;background:#dedcee"></div>
<div class="a" style="left:815.0px;top:112px;width:1px;height:460px;background:#dedcee"></div>
<div class="a" style="left:884px;top:112px;width:1px;height:460px;background:#dde3d8"></div>
</body></html>
